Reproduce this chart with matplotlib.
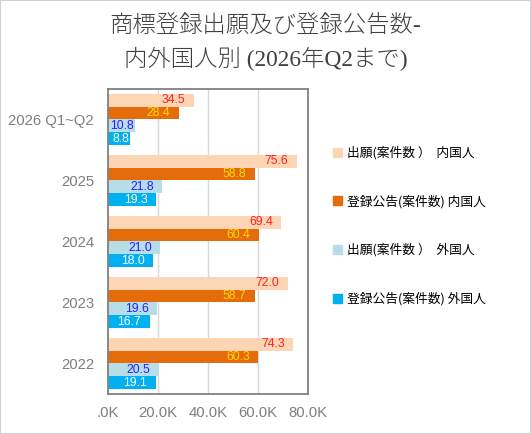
import numpy as np
import matplotlib.pyplot as plt
from matplotlib.patches import Patch, Rectangle

categories = ["2026 Q1~Q2", "2025", "2024", "2023", "2022"]
series_names = ["出願(案件数 ）  内国人", "登録公告(案件数) 内国人",
                "出願(案件数 ）  外国人", "登録公告(案件数) 外国人"]
dom_app = [34.5, 75.6, 69.4, 72.0, 74.3]
dom_reg = [28.4, 58.8, 60.4, 58.7, 60.3]
for_app = [10.8, 21.8, 21.0, 19.6, 20.5]
for_reg = [8.8, 19.3, 18.0, 16.7, 19.1]
xticks = [0, 20, 40, 60, 80]
xticklabels = [".0K", "20.0K", "40.0K", "60.0K", "80.0K"]

colors = ["#FCD5B5", "#E46C0A", "#B7DEE8", "#00B0F0"]
label_colors = ["#FF2020", "#FFD700", "#2020FF", "#FFFFFF"]
series = [dom_app, dom_reg, for_app, for_reg]

fig = plt.figure(figsize=(5.31, 4.34), dpi=100)
fig.patches.append(Rectangle((0, 0), 1, 1, transform=fig.transFigure,
                             fill=False, ec="#D0D0D0", lw=1.5))
ax = fig.add_axes([0.2034, 0.0922, 0.376, 0.703])

y = np.arange(len(categories))
h = 0.21
for k, (vals, c, lc) in enumerate(zip(series, colors, label_colors)):
    pos = y - 1.5 * h + k * h
    ax.barh(pos, vals, height=h, color=c, zorder=2)
    for p, v in zip(pos, vals):
        # short bars get their label pushed to the end
        right = v - 3.4 if v > 15 else v - 0.3
        ax.text(right, p, f"{v:.1f}", ha="right", va="center", color=lc,
                fontsize=8.8, family="Liberation Sans", zorder=3)

ax.set_ylim(len(categories) - 0.5, -0.5)
ax.set_xlim(0, 80)
ax.set_yticks(y)
ax.set_yticklabels(categories, family="Liberation Sans", fontsize=10.7, color="#7F7F7F")
ax.set_xticks(xticks)
ax.set_xticklabels(xticklabels, family="Liberation Sans", fontsize=10.7, color="#7F7F7F")
ax.tick_params(length=0, pad=10)
ax.tick_params(axis="x", pad=9)
for v in [20, 40, 60]:
    ax.axvline(v, color="#D9D9D9", lw=1, zorder=1)
for s in ax.spines.values():
    s.set_color("#808080")
    s.set_linewidth(1.3)

handles = [Patch(color=c) for c in colors]
fig.legend(handles, series_names, loc="upper left", bbox_to_anchor=(0.605, 0.69),
           frameon=False, handlelength=0.7, handleheight=0.7, handletextpad=0.45,
           labelspacing=2.75, prop={"family": "Noto Sans CJK JP", "size": 9.2})

fig.text(0.5, 0.938, "商標登録出願及び登録公告数-", ha="center", va="center",
         fontsize=16.8, color="#404040", family=["Liberation Serif", "Noto Sans CJK JP"],
         fontweight="light")
fig.text(0.5, 0.865, "内外国人別 (2026年Q2まで)", ha="center", va="center",
         fontsize=16.8, color="#404040", family=["Liberation Serif", "Noto Sans CJK JP"],
         fontweight="light")

fig.savefig("out.png", dpi=100)
